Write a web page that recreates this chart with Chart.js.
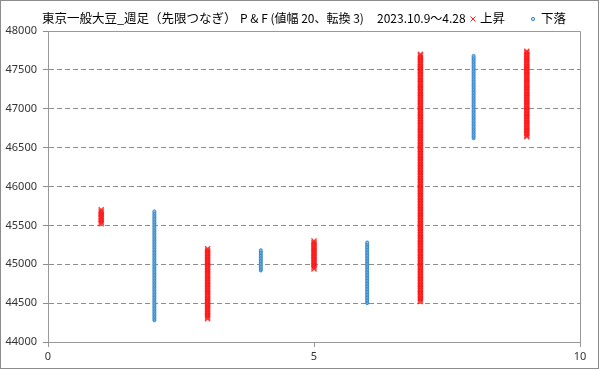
<!DOCTYPE html>
<html lang="ja">
<head>
<meta charset="UTF-8">
<title>東京一般大豆 P&F</title>
<script src="https://cdn.jsdelivr.net/npm/chart.js"></script>
<style>
    body { margin: 0; background: #fff; }
    canvas { display: block; }
</style>
</head>
<body>
<canvas id="chart" width="599" height="369"></canvas>
<script>
// P&F 列データ（値幅 20）
const boxSize = 20;
const colX    = [1, 2, 3, 4, 5, 6, 7, 8, 9];
const colDir  = ['up', 'down', 'up', 'down', 'up', 'down', 'up', 'down', 'up'];
const colLow  = [45520, 44280, 44300, 44920, 44940, 44500, 44520, 46620, 46640];
const colHigh = [45700, 45680, 45200, 45180, 45300, 45280, 47700, 47680, 47740];

const titleParts = ['東京一般大豆_週足（先限つなぎ）', 'P & F (値幅 20、転換 3)', '2023.10.9～4.28'];
const legendUp = '上昇';
const legendDown = '下落';

const xTicks = [0, 5, 10];

// 列ごとの枠を点にする
const upPts = [], downPts = [];
colX.forEach((x, i) => {
    const target = colDir[i] === 'up' ? upPts : downPts;
    for (let v = colLow[i]; v <= colHigh[i]; v += boxSize) {
        target.push({ x: x, y: v });
    }
});

const RED = '#ff1a1a';
const BLUE = '#2f86c8';

const framePlugin = {
    id: 'frame',
    beforeDraw(chart) {
        const ctx = chart.ctx;
        ctx.save();
        ctx.fillStyle = '#fff';
        ctx.fillRect(0, 0, chart.width, chart.height);
        ctx.restore();
    },
    afterDraw(chart) {
        const ctx = chart.ctx;
        const a = chart.chartArea;
        ctx.save();
        // plot box top / right
        ctx.strokeStyle = '#999';
        ctx.lineWidth = 1;
        ctx.beginPath();
        ctx.moveTo(a.left, Math.round(a.top) + 0.5);
        ctx.lineTo(Math.round(a.right) + 0.5, Math.round(a.top) + 0.5);
        ctx.lineTo(Math.round(a.right) + 0.5, a.bottom);
        ctx.stroke();
        // outer border
        ctx.strokeStyle = '#8c8c8c';
        ctx.strokeRect(0.5, 0.5, chart.width - 1, chart.height - 1);

        // title
        ctx.fillStyle = '#000';
        ctx.textBaseline = 'middle';
        ctx.font = '12.5px "Noto Sans CJK JP"';
        ctx.fillText(titleParts[0], 42, 18);
        ctx.font = '12px "Noto Sans CJK JP"';
        ctx.fillText(titleParts[1], 240, 18);
        ctx.fillText(titleParts[2], 377, 18);

        // legend
        ctx.strokeStyle = RED;
        ctx.lineWidth = 1;
        ctx.beginPath();
        ctx.moveTo(470.5, 16.5); ctx.lineTo(475.5, 21.5);
        ctx.moveTo(475.5, 16.5); ctx.lineTo(470.5, 21.5);
        ctx.stroke();
        ctx.fillStyle = '#000';
        ctx.font = '12.5px "Noto Sans CJK JP"';
        ctx.fillText(legendUp, 480, 18);

        ctx.strokeStyle = BLUE;
        ctx.fillStyle = '#d6eaf8';
        ctx.beginPath();
        ctx.arc(533, 19, 1.6, 0, Math.PI * 2);
        ctx.fill();
        ctx.stroke();
        ctx.fillStyle = '#000';
        ctx.fillText(legendDown, 541, 18);
        ctx.restore();
    }
};

new Chart(document.getElementById('chart'), {
    type: 'scatter',
    data: {
        datasets: [
            {
                label: legendUp,
                data: upPts,
                pointStyle: 'crossRot',
                pointRadius: 3.6,
                pointBorderWidth: 1.3,
                pointBorderColor: 'rgba(255, 20, 20, 0.85)',
                pointBackgroundColor: RED,
                pointHoverRadius: 3.6
            },
            {
                label: legendDown,
                data: downPts,
                pointStyle: 'circle',
                pointRadius: 1.5,
                pointBorderWidth: 1,
                pointBorderColor: BLUE,
                pointBackgroundColor: '#8fc1e8',
                pointHoverRadius: 1.5
            }
        ]
    },
    options: {
        responsive: false,
        devicePixelRatio: 1,
        animation: false,
        layout: { padding: { top: 31, right: 19, left: 0, bottom: 0 } },
        plugins: {
            legend: { display: false },
            title: { display: false },
            tooltip: { enabled: false }
        },
        scales: {
            x: {
                type: 'linear',
                min: 0,
                max: 10,
                afterBuildTicks(scale) {
                    scale.ticks = xTicks.map(v => ({ value: v }));
                },
                afterFit(scale) { scale.height = 27; },
                grid: { drawOnChartArea: false, drawTicks: true, tickLength: 5, color: '#999' },
                border: { color: '#999' },
                ticks: {
                    color: '#333',
                    padding: 3,
                    font: { family: 'Noto Sans', size: 11 }
                }
            },
            y: {
                min: 44000,
                max: 48000,
                afterFit(scale) { scale.width = 48; },
                grid: { color: '#8c8c8c', tickLength: 5, tickBorderDash: [] },
                border: { color: '#999', dash: [5, 3] },
                ticks: {
                    stepSize: 500,
                    color: '#333',
                    padding: 6,
                    font: { family: 'Noto Sans', size: 11 },
                    callback: v => String(v)
                }
            }
        }
    },
    plugins: [framePlugin]
});
</script>
</body>
</html>
